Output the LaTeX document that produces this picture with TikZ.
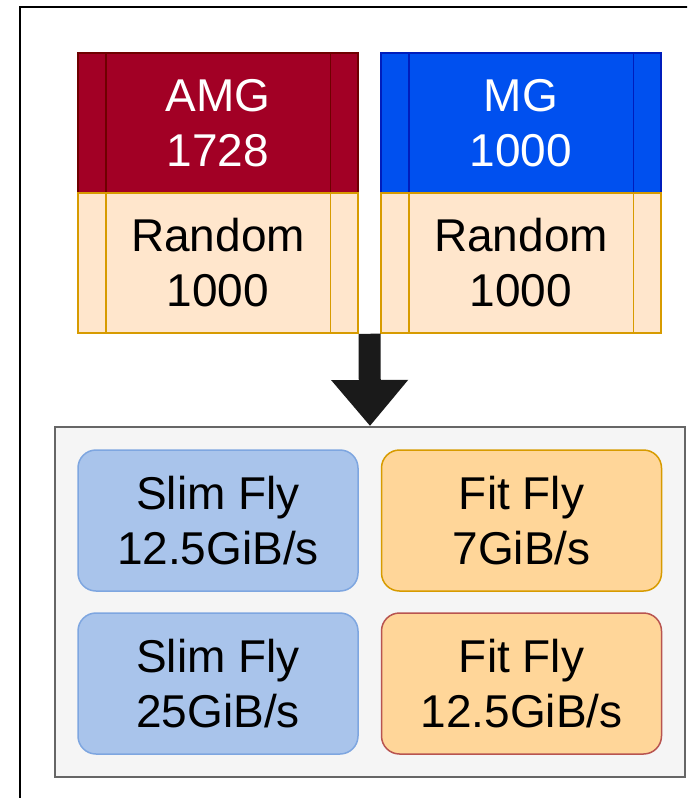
\documentclass[tikz,border=0pt]{standalone}
\usepackage{fontspec}
\setmainfont{Liberation Sans}
\usetikzlibrary{arrows.meta,calc}

\definecolor{amgfill}{HTML}{A20025}
\definecolor{amgline}{HTML}{6F0000}
\definecolor{mgfill}{HTML}{0050EF}
\definecolor{mgline}{HTML}{001DBC}
\definecolor{rndfill}{HTML}{FFE6CC}
\definecolor{rndline}{HTML}{D79B00}
\definecolor{groupfill}{HTML}{F5F5F5}
\definecolor{groupline}{HTML}{666666}
\definecolor{slimfill}{HTML}{A9C4EB}
\definecolor{slimline}{HTML}{7EA6E0}
\definecolor{fitfill}{HTML}{FFD699}
\definecolor{fitline}{HTML}{D79B00}
\definecolor{fitred}{HTML}{B85450}
\definecolor{arrowink}{HTML}{1A1A1A}

\tikzset{
  label text/.style={font=\fontsize{23}{27.5}\selectfont, align=center},
  procbox/.style={draw, line width=0.75pt, inner sep=0pt,
    minimum width=140pt, minimum height=70pt, label text},
  amgbox/.style={procbox, fill=amgfill, draw=amgline, text=white},
  mgbox/.style={procbox, fill=mgfill, draw=mgline, text=white},
  rndbox/.style={procbox, fill=rndfill, draw=rndline},
  groupbox/.style={draw=groupline, fill=groupfill, line width=1pt, inner sep=0pt,
    minimum width=315pt, minimum height=175pt},
  flybox/.style={draw, line width=0.75pt, rounded corners=9pt, inner sep=0pt,
    minimum width=140pt, minimum height=70.5pt, label text},
  slimbox/.style={flybox, fill=slimfill, draw=slimline},
  fitbox/.style={flybox, fill=fitfill, draw=fitline},
  fitredbox/.style={flybox, fill=fitfill, draw=fitred},
  bigarrow/.style={draw=arrowink, line width=11pt,
    -{Triangle[length=23pt, width=37pt, fill=arrowink]}},
}

% draws the two inner side bars of a process box
\newcommand{\sidebars}[2]{%
  \draw[#2, line width=0.75pt] ([xshift=14.25pt]#1.north west) -- ([xshift=14.25pt]#1.south west);
  \draw[#2, line width=0.75pt] ([xshift=-14.25pt]#1.north east) -- ([xshift=-14.25pt]#1.south east);
}

\begin{document}
\begin{tikzpicture}[x=0.5pt, y=-0.5pt]
  \useasboundingbox (0,0) rectangle (687,798);
  \clip (0,0) rectangle (687,798);

  % outer frame, running past the page edges
  \draw[line width=1pt, black] (20,7) rectangle (720,830);

  % input matrices
  \node[amgbox] (amg) at (218,123) {AMG\\1728};
  \node[rndbox] (rndA) at (218,263) {Random\\1000};
  \node[mgbox]  (mg)  at (521,123) {MG\\1000};
  \node[rndbox] (rndB) at (521,263) {Random\\1000};
  \sidebars{amg}{amgline}
  \sidebars{rndA}{rndline}
  \sidebars{mg}{mgline}
  \sidebars{rndB}{rndline}

  % network configurations
  \node[groupbox] (group) at (370,602) {};
  \node[slimbox]   (slimA) at (218,520.5) {Slim Fly\\12.5GiB/s};
  \node[fitbox]    (fitA)  at (521.5,520.5) {Fit Fly\\7GiB/s};
  \node[slimbox]   (slimB) at (218,683.5) {Slim Fly\\25GiB/s};
  \node[fitredbox] (fitB)  at (521.5,683.5) {Fit Fly\\12.5GiB/s};

  % flow from inputs to configurations
  \coordinate (src) at ($(rndA.south east)!0.5!(rndB.south west)$);
  \draw[bigarrow] (src) -- (group.north);
\end{tikzpicture}
\end{document}
